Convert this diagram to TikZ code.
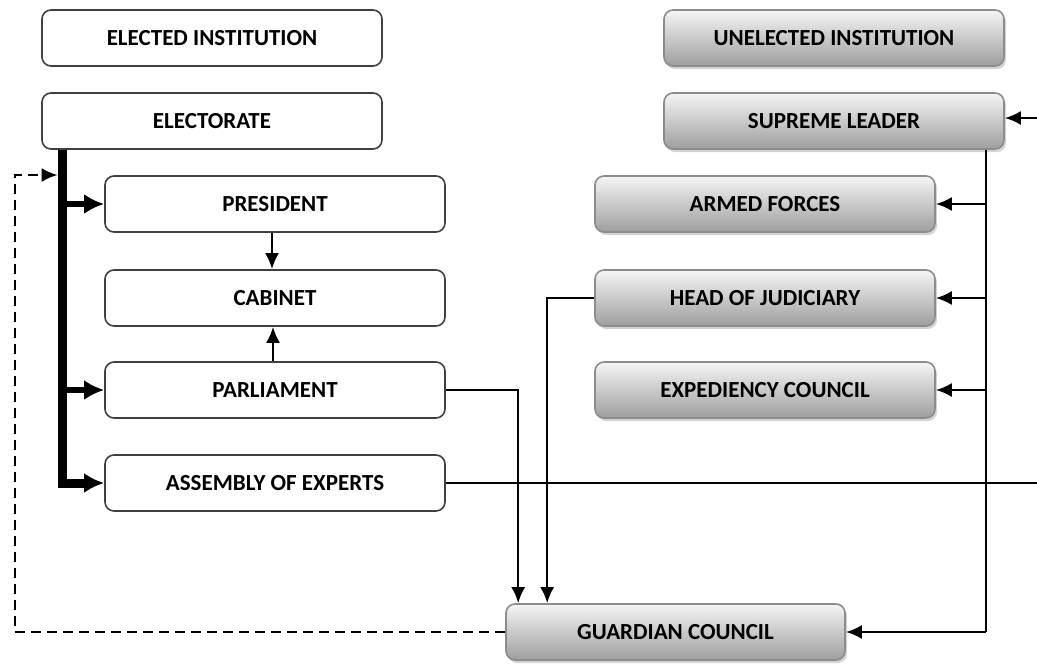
\documentclass[tikz,border=0pt]{standalone}
\usepackage{fontspec}
\setmainfont{Carlito}
\usetikzlibrary{arrows.meta,shadows,calc}
\begin{document}
\begin{tikzpicture}[x=1pt,y=-1pt,
  base/.style={rounded corners=9pt, minimum width=340pt, minimum height=56pt,
    font=\bfseries\fontsize{23}{26}\selectfont, inner sep=0pt},
  elected/.style={base, draw=black!75, line width=1.6pt, fill=white},
  unelected/.style={base, draw=black!45, line width=1.6pt, top color=black!4, bottom color=black!38,
    drop shadow={opacity=0.35, shadow xshift=2pt, shadow yshift=-3pt}},
  conn/.style={line width=2.4pt, -{Latex[length=16pt,width=14pt]}},
  plain/.style={line width=1.6pt},
  thickc/.style={line width=9pt},
  thickarr/.style={line width=6pt, -{Latex[length=20pt,width=20pt]}},
  dashc/.style={line width=2.6pt, dash pattern=on 10pt off 6pt, -{Latex[length=16pt,width=14pt]}}
]
\useasboundingbox (0,0) rectangle (1037,664);
% elected side
\node[elected] (ei) at (212,38) {ELECTED INSTITUTION};
\node[elected] (elec) at (212,121) {ELECTORATE};
\node[elected] (pres) at (275,204) {PRESIDENT};
\node[elected] (cab) at (275,298) {CABINET};
\node[elected] (parl) at (275,390) {PARLIAMENT};
\node[elected] (ae) at (275,483) {ASSEMBLY OF EXPERTS};
% unelected side
\node[unelected] (ui) at (834,38) {UNELECTED INSTITUTION};
\node[unelected] (sl) at (834,121) {SUPREME LEADER};
\node[unelected] (af) at (765,204) {ARMED FORCES};
\node[unelected] (hj) at (765,298) {HEAD OF JUDICIARY};
\node[unelected] (ec) at (765,390) {EXPEDIENCY COUNCIL};
\node[unelected, minimum width=339pt] (gc) at (675.5,632) {GUARDIAN COUNCIL};
% coordinates
\coordinate (t0) at ([xshift=21pt]elec.south west);
\coordinate (dl) at (15,175);
\coordinate (rv) at ([xshift=-19pt]sl.south east);
\coordinate (rin) at (1037,118);
\coordinate (rout) at (1037,483);
\coordinate (pv) at ([xshift=13pt]gc.north west);
\coordinate (hv) at ([xshift=42pt]gc.north west);
% thick electorate bus
\draw[thickc] (t0) |- ([xshift=-14pt]ae.west);
\draw[thickarr] (t0 |- pres.west) -- (pres.west);
\draw[thickarr] (t0 |- parl.west) -- (parl.west);
\draw[thickarr] ([xshift=-3pt]t0 |- ae.west) -- (ae.west);
% dashed feedback
\draw[dashc] (gc.west) -| (dl) -- ([xshift=-4.5pt]t0 |- dl);
% president / parliament to cabinet
\draw[conn] ([xshift=-3pt]pres.south) -- ([xshift=-3pt]cab.north);
\draw[conn] ([xshift=-2pt]parl.north) -- ([xshift=-2pt]cab.south);
% to guardian council
\draw[conn] (parl.east) -| (pv);
\draw[conn] (hj.west) -| (hv);
% supreme leader bus
\draw[conn] (rin) -- (rin -| sl.east);
\draw[plain] (rv) -- (rv |- gc.east);
\draw[conn] (rv |- af.east) -- (af.east);
\draw[conn] (rv |- hj.east) -- (hj.east);
\draw[conn] (rv |- ec.east) -- (ec.east);
\draw[conn] (rv |- gc.east) -- (gc.east);
% assembly of experts outward
\draw[plain] (ae.east) -- (rout);
\end{tikzpicture}
\end{document}
